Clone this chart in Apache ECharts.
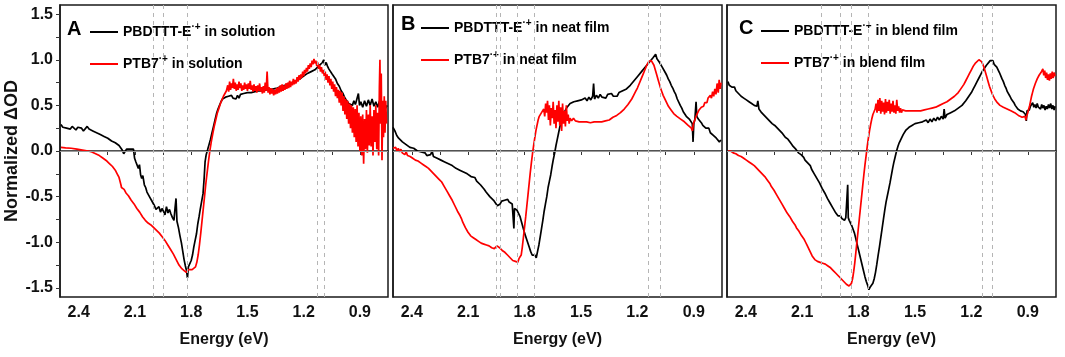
<!DOCTYPE html>
<html>
<head>
<meta charset="utf-8">
<script src="https://cdn.jsdelivr.net/npm/echarts@6/dist/echarts.min.js"></script>
<style>
  html, body { margin: 0; padding: 0; background: #fff; }
  #chart { width: 1065px; height: 357px; }
</style>
</head>
<body>
<div id="chart"></div>
<script>
// energy (eV), normalized dOD
const solBlack = [[2.495,0.29],[2.485,0.26],[2.475,0.28],[2.465,0.25],[2.455,0.27],[2.445,0.24],[2.435,0.27],[2.425,0.25],[2.415,0.23],[2.405,0.26],[2.395,0.24],[2.385,0.25],[2.375,0.22],[2.365,0.24],[2.355,0.27],[2.345,0.24],[2.335,0.25],[2.325,0.22],[2.315,0.23],[2.305,0.2],[2.295,0.21],[2.285,0.18],[2.275,0.19],[2.265,0.16],[2.255,0.17],[2.245,0.14],[2.235,0.15],[2.225,0.11],[2.215,0.12],[2.205,0.09],[2.195,0.1],[2.185,0.06],[2.175,0.04],[2.168,0.01],[2.16,-0.03],[2.152,-0.01],[2.145,0.02],[2.135,0.01],[2.125,0.02],[2.115,0.01],[2.108,0.02],[2.102,-0.08],[2.095,-0.12],[2.088,-0.1],[2.082,-0.19],[2.076,-0.15],[2.07,-0.26],[2.064,-0.3],[2.058,-0.27],[2.05,-0.37],[2.043,-0.4],[2.036,-0.45],[2.028,-0.47],[2.02,-0.51],[2.012,-0.54],[2.004,-0.57],[1.996,-0.6],[1.988,-0.64],[1.98,-0.66],[1.972,-0.61],[1.964,-0.67],[1.956,-0.63],[1.948,-0.66],[1.94,-0.7],[1.932,-0.61],[1.924,-0.68],[1.916,-0.64],[1.908,-0.69],[1.9,-0.73],[1.892,-0.76],[1.886,-0.62],[1.881,-0.52],[1.876,-0.77],[1.868,-0.84],[1.86,-0.93],[1.852,-1.01],[1.845,-1.1],[1.838,-1.19],[1.831,-1.26],[1.825,-1.31],[1.82,-1.39],[1.815,-1.27],[1.808,-1.25],[1.8,-1.2],[1.793,-1.14],[1.786,-1.05],[1.779,-0.98],[1.772,-0.91],[1.765,-0.8],[1.758,-0.72],[1.751,-0.63],[1.744,-0.55],[1.737,-0.47],[1.731,-0.3],[1.726,-0.12],[1.72,-0.04],[1.713,0.01],[1.705,0.07],[1.697,0.13],[1.689,0.2],[1.681,0.27],[1.673,0.34],[1.665,0.41],[1.657,0.46],[1.649,0.5],[1.641,0.54],[1.633,0.57],[1.625,0.55],[1.617,0.59],[1.609,0.57],[1.601,0.6],[1.593,0.58],[1.585,0.61],[1.577,0.58],[1.569,0.6],[1.561,0.57],[1.553,0.61],[1.545,0.58],[1.537,0.62],[1.529,0.6],[1.52,0.63],[1.51,0.61],[1.5,0.64],[1.49,0.62],[1.48,0.64],[1.47,0.62],[1.46,0.65],[1.45,0.63],[1.44,0.66],[1.43,0.64],[1.42,0.66],[1.41,0.64],[1.4,0.67],[1.39,0.65],[1.38,0.67],[1.37,0.65],[1.36,0.68],[1.35,0.66],[1.34,0.69],[1.33,0.68],[1.32,0.71],[1.31,0.69],[1.3,0.72],[1.29,0.71],[1.28,0.74],[1.27,0.73],[1.26,0.75],[1.25,0.74],[1.24,0.77],[1.23,0.76],[1.22,0.79],[1.21,0.8],[1.2,0.82],[1.19,0.83],[1.18,0.85],[1.17,0.84],[1.16,0.87],[1.15,0.86],[1.14,0.89],[1.13,0.9],[1.12,0.93],[1.11,0.95],[1.1,0.97],[1.093,1.0],[1.087,0.94],[1.08,0.97],[1.073,0.93],[1.066,0.9],[1.058,0.88],[1.05,0.85],[1.04,0.82],[1.03,0.79],[1.02,0.74],[1.01,0.71],[1.0,0.66],[0.99,0.63],[0.98,0.58],[0.97,0.56],[0.96,0.52],[0.95,0.54],[0.94,0.5],[0.932,0.55],[0.924,0.51],[0.915,0.53],[0.908,0.63],[0.902,0.5],[0.895,0.54],[0.885,0.48],[0.875,0.55],[0.865,0.49],[0.855,0.56],[0.845,0.5],[0.835,0.57],[0.825,0.49],[0.815,0.54],[0.805,0.48],[0.795,0.55],[0.785,0.47],[0.775,0.52],[0.765,0.46],[0.755,0.5]];

const solRed = [[2.495,0.04],[2.47,0.035],[2.44,0.03],[2.41,0.02],[2.38,0.01],[2.35,0.0],[2.33,-0.01],[2.31,-0.03],[2.29,-0.05],[2.27,-0.08],[2.25,-0.11],[2.235,-0.14],[2.22,-0.17],[2.205,-0.21],[2.195,-0.25],[2.185,-0.29],[2.178,-0.31],[2.175,-0.37],[2.172,-0.4],[2.165,-0.39],[2.158,-0.42],[2.148,-0.46],[2.135,-0.49],[2.12,-0.54],[2.105,-0.58],[2.09,-0.63],[2.075,-0.67],[2.06,-0.72],[2.045,-0.76],[2.03,-0.79],[2.015,-0.81],[2.0,-0.84],[1.985,-0.87],[1.97,-0.9],[1.955,-0.94],[1.94,-0.98],[1.925,-1.03],[1.91,-1.08],[1.895,-1.13],[1.88,-1.19],[1.865,-1.25],[1.85,-1.29],[1.838,-1.31],[1.826,-1.33],[1.815,-1.3],[1.805,-1.32],[1.795,-1.3],[1.785,-1.3],[1.777,-1.27],[1.77,-1.22],[1.763,-1.14],[1.756,-1.03],[1.749,-0.9],[1.742,-0.76],[1.735,-0.62],[1.728,-0.48],[1.721,-0.34],[1.714,-0.22],[1.707,-0.1],[1.7,0.01],[1.692,0.11],[1.684,0.2],[1.676,0.28],[1.668,0.35],[1.66,0.42],[1.652,0.47],[1.644,0.52],[1.636,0.56],[1.628,0.6],[1.62,0.63],[1.612,0.66],[1.605,0.72],[1.6,0.65],[1.595,0.76],[1.59,0.67],[1.585,0.74],[1.58,0.69],[1.575,0.79],[1.57,0.68],[1.565,0.75],[1.56,0.66],[1.555,0.73],[1.55,0.67],[1.545,0.76],[1.54,0.69],[1.535,0.74],[1.53,0.66],[1.525,0.72],[1.52,0.67],[1.515,0.75],[1.51,0.68],[1.505,0.73],[1.5,0.66],[1.495,0.74],[1.49,0.68],[1.485,0.77],[1.48,0.67],[1.475,0.72],[1.47,0.65],[1.465,0.73],[1.46,0.66],[1.455,0.71],[1.45,0.64],[1.445,0.72],[1.44,0.66],[1.435,0.74],[1.43,0.65],[1.425,0.7],[1.42,0.63],[1.415,0.71],[1.41,0.64],[1.405,0.75],[1.4,0.66],[1.395,0.87],[1.39,0.64],[1.385,0.7],[1.38,0.62],[1.375,0.69],[1.37,0.63],[1.365,0.68],[1.36,0.61],[1.355,0.67],[1.35,0.62],[1.345,0.69],[1.34,0.63],[1.335,0.7],[1.33,0.64],[1.325,0.72],[1.32,0.65],[1.315,0.73],[1.31,0.66],[1.305,0.72],[1.3,0.67],[1.295,0.74],[1.29,0.68],[1.285,0.75],[1.28,0.69],[1.275,0.77],[1.27,0.7],[1.265,0.76],[1.26,0.72],[1.255,0.79],[1.25,0.73],[1.245,0.78],[1.24,0.74],[1.235,0.81],[1.23,0.76],[1.225,0.83],[1.22,0.78],[1.215,0.84],[1.21,0.8],[1.205,0.87],[1.2,0.82],[1.195,0.89],[1.19,0.85],[1.185,0.91],[1.18,0.87],[1.175,0.94],[1.17,0.9],[1.165,0.96],[1.16,0.92],[1.155,0.99],[1.15,0.95],[1.145,1.01],[1.14,0.96],[1.135,0.99],[1.13,0.93],[1.125,0.97],[1.12,0.9],[1.115,0.94],[1.11,0.87],[1.105,0.92],[1.1,0.85],[1.095,0.89],[1.09,0.82],[1.085,0.87],[1.08,0.78],[1.075,0.84],[1.07,0.75],[1.065,0.82],[1.06,0.72],[1.055,0.79],[1.05,0.68],[1.045,0.76],[1.04,0.65],[1.035,0.73],[1.03,0.6],[1.025,0.7],[1.02,0.58],[1.015,0.67],[1.01,0.53],[1.005,0.66],[1.0,0.5],[0.995,0.64],[0.99,0.44],[0.985,0.6],[0.98,0.4],[0.975,0.57],[0.97,0.35],[0.965,0.55],[0.96,0.3],[0.955,0.52],[0.95,0.25],[0.945,0.5],[0.94,0.2],[0.935,0.48],[0.93,0.15],[0.925,0.46],[0.92,0.1],[0.915,0.5],[0.91,0.05],[0.905,0.42],[0.9,0.0],[0.895,0.38],[0.89,-0.05],[0.885,0.4],[0.88,-0.14],[0.875,0.35],[0.87,0.02],[0.865,0.45],[0.86,-0.02],[0.855,0.4],[0.85,0.06],[0.845,0.5],[0.84,0.05],[0.835,0.38],[0.83,-0.05],[0.825,0.45],[0.82,0.1],[0.815,0.5],[0.81,0.02],[0.805,0.42],[0.8,-0.05],[0.796,0.7],[0.793,1.0],[0.79,0.3],[0.786,0.85],[0.782,-0.1],[0.778,0.55],[0.774,0.15],[0.77,0.6],[0.766,0.2],[0.762,0.55],[0.758,0.3]];

const neatBlack = [[2.5,0.26],[2.49,0.22],[2.48,0.17],[2.47,0.14],[2.46,0.12],[2.45,0.1],[2.44,0.08],[2.43,0.07],[2.42,0.06],[2.41,0.04],[2.4,0.05],[2.39,0.03],[2.38,0.02],[2.37,0.0],[2.36,0.01],[2.35,-0.01],[2.34,-0.03],[2.33,-0.02],[2.32,-0.05],[2.31,-0.03],[2.3,-0.04],[2.292,0.0],[2.285,-0.06],[2.275,-0.07],[2.265,-0.08],[2.255,-0.07],[2.245,-0.1],[2.235,-0.09],[2.225,-0.12],[2.215,-0.11],[2.205,-0.14],[2.195,-0.15],[2.185,-0.16],[2.175,-0.15],[2.165,-0.19],[2.155,-0.17],[2.145,-0.21],[2.135,-0.2],[2.125,-0.23],[2.115,-0.22],[2.105,-0.25],[2.095,-0.24],[2.085,-0.28],[2.075,-0.3],[2.065,-0.29],[2.055,-0.33],[2.045,-0.34],[2.035,-0.37],[2.025,-0.39],[2.015,-0.42],[2.005,-0.45],[1.995,-0.47],[1.985,-0.5],[1.975,-0.52],[1.965,-0.54],[1.955,-0.57],[1.945,-0.6],[1.937,-0.61],[1.93,-0.58],[1.922,-0.55],[1.914,-0.57],[1.906,-0.54],[1.898,-0.56],[1.89,-0.53],[1.882,-0.56],[1.874,-0.55],[1.866,-0.58],[1.86,-0.6],[1.857,-0.85],[1.854,-0.63],[1.848,-0.62],[1.84,-0.65],[1.832,-0.67],[1.824,-0.72],[1.816,-0.78],[1.808,-0.84],[1.8,-0.9],[1.792,-0.95],[1.784,-1.0],[1.776,-1.05],[1.768,-1.1],[1.76,-1.14],[1.752,-1.16],[1.745,-1.14],[1.738,-1.17],[1.731,-1.1],[1.724,-1.03],[1.717,-0.94],[1.71,-0.85],[1.703,-0.76],[1.696,-0.66],[1.689,-0.58],[1.682,-0.5],[1.675,-0.4],[1.668,-0.33],[1.661,-0.26],[1.654,-0.17],[1.647,-0.09],[1.64,-0.02],[1.633,0.06],[1.626,0.13],[1.619,0.2],[1.612,0.27],[1.605,0.33],[1.598,0.38],[1.59,0.42],[1.582,0.45],[1.574,0.48],[1.566,0.5],[1.558,0.52],[1.548,0.5],[1.538,0.54],[1.528,0.52],[1.518,0.55],[1.508,0.53],[1.498,0.56],[1.488,0.54],[1.478,0.58],[1.468,0.55],[1.458,0.59],[1.448,0.56],[1.438,0.6],[1.433,0.74],[1.428,0.57],[1.418,0.61],[1.408,0.58],[1.398,0.62],[1.388,0.59],[1.378,0.61],[1.368,0.58],[1.358,0.62],[1.348,0.6],[1.338,0.63],[1.328,0.6],[1.318,0.62],[1.308,0.6],[1.298,0.64],[1.288,0.62],[1.278,0.66],[1.268,0.64],[1.258,0.68],[1.248,0.69],[1.238,0.72],[1.228,0.74],[1.218,0.77],[1.208,0.79],[1.198,0.82],[1.188,0.84],[1.178,0.87],[1.168,0.89],[1.158,0.92],[1.148,0.94],[1.138,0.97],[1.128,0.99],[1.118,1.02],[1.11,1.0],[1.103,1.06],[1.096,1.01],[1.089,1.03],[1.082,0.97],[1.075,0.95],[1.068,0.92],[1.06,0.9],[1.052,0.86],[1.044,0.83],[1.036,0.79],[1.028,0.76],[1.02,0.72],[1.012,0.69],[1.004,0.65],[0.996,0.62],[0.988,0.57],[0.98,0.55],[0.972,0.5],[0.964,0.47],[0.956,0.43],[0.948,0.41],[0.94,0.38],[0.932,0.36],[0.924,0.35],[0.916,0.33],[0.908,0.3],[0.904,0.1],[0.9,0.3],[0.894,0.35],[0.888,0.54],[0.884,0.38],[0.876,0.35],[0.868,0.33],[0.86,0.31],[0.852,0.28],[0.844,0.3],[0.836,0.25],[0.828,0.23],[0.82,0.25],[0.812,0.2],[0.804,0.22],[0.796,0.17],[0.788,0.19],[0.78,0.14],[0.772,0.16],[0.764,0.1],[0.756,0.12]];

const neatRed = [[2.5,0.03],[2.493,0.01],[2.486,0.04],[2.479,0.0],[2.472,0.03],[2.465,-0.01],[2.458,0.02],[2.451,-0.02],[2.444,0.0],[2.437,-0.04],[2.43,-0.01],[2.423,-0.05],[2.416,-0.03],[2.409,-0.06],[2.402,-0.04],[2.395,-0.08],[2.388,-0.06],[2.381,-0.1],[2.374,-0.08],[2.367,-0.11],[2.36,-0.1],[2.353,-0.13],[2.346,-0.12],[2.339,-0.15],[2.332,-0.14],[2.325,-0.17],[2.318,-0.16],[2.311,-0.19],[2.304,-0.18],[2.297,-0.22],[2.29,-0.21],[2.283,-0.25],[2.276,-0.24],[2.269,-0.28],[2.262,-0.27],[2.255,-0.31],[2.248,-0.3],[2.241,-0.34],[2.234,-0.35],[2.227,-0.39],[2.22,-0.4],[2.213,-0.44],[2.206,-0.45],[2.199,-0.49],[2.192,-0.5],[2.185,-0.54],[2.178,-0.56],[2.171,-0.6],[2.164,-0.62],[2.157,-0.66],[2.15,-0.67],[2.143,-0.71],[2.136,-0.74],[2.129,-0.78],[2.122,-0.8],[2.115,-0.84],[2.108,-0.86],[2.101,-0.89],[2.094,-0.9],[2.087,-0.93],[2.08,-0.92],[2.073,-0.95],[2.066,-0.94],[2.059,-0.97],[2.052,-0.96],[2.045,-0.99],[2.038,-0.98],[2.031,-1.01],[2.024,-1.0],[2.017,-1.02],[2.01,-1.0],[2.003,-1.03],[1.996,-1.01],[1.989,-1.04],[1.982,-1.02],[1.975,-1.06],[1.968,-1.04],[1.961,-1.07],[1.954,-1.05],[1.947,-1.04],[1.94,-1.02],[1.933,-1.06],[1.926,-1.07],[1.919,-1.09],[1.912,-1.08],[1.905,-1.11],[1.898,-1.12],[1.891,-1.14],[1.884,-1.15],[1.877,-1.17],[1.87,-1.18],[1.863,-1.2],[1.856,-1.19],[1.849,-1.21],[1.842,-1.2],[1.836,-1.22],[1.83,-1.18],[1.824,-1.2],[1.818,-1.14],[1.812,-1.05],[1.806,-0.94],[1.8,-0.83],[1.794,-0.72],[1.788,-0.6],[1.782,-0.48],[1.776,-0.36],[1.77,-0.24],[1.764,-0.13],[1.758,-0.03],[1.752,0.06],[1.746,0.14],[1.74,0.22],[1.734,0.28],[1.728,0.34],[1.722,0.38],[1.716,0.36],[1.71,0.42],[1.704,0.4],[1.698,0.46],[1.693,0.38],[1.688,0.52],[1.683,0.42],[1.678,0.55],[1.673,0.34],[1.668,0.5],[1.663,0.28],[1.658,0.47],[1.653,0.36],[1.648,0.54],[1.643,0.3],[1.638,0.45],[1.633,0.25],[1.628,0.5],[1.623,0.32],[1.618,0.55],[1.613,0.28],[1.608,0.48],[1.603,0.22],[1.598,0.52],[1.593,0.3],[1.588,0.44],[1.583,0.27],[1.578,0.5],[1.573,0.33],[1.568,0.4],[1.563,0.3],[1.558,0.36],[1.55,0.33],[1.54,0.36],[1.53,0.33],[1.52,0.35],[1.51,0.32],[1.5,0.34],[1.49,0.32],[1.48,0.34],[1.47,0.32],[1.46,0.33],[1.45,0.31],[1.44,0.33],[1.43,0.32],[1.42,0.33],[1.41,0.32],[1.4,0.33],[1.39,0.32],[1.38,0.34],[1.37,0.33],[1.36,0.35],[1.35,0.34],[1.34,0.36],[1.33,0.37],[1.32,0.38],[1.31,0.39],[1.3,0.4],[1.29,0.42],[1.28,0.44],[1.27,0.46],[1.26,0.48],[1.25,0.51],[1.24,0.54],[1.23,0.57],[1.22,0.61],[1.21,0.65],[1.2,0.69],[1.19,0.74],[1.18,0.79],[1.17,0.84],[1.16,0.89],[1.15,0.94],[1.14,0.98],[1.133,1.0],[1.126,0.99],[1.119,0.97],[1.112,0.94],[1.105,0.89],[1.098,0.84],[1.091,0.79],[1.084,0.74],[1.077,0.69],[1.07,0.65],[1.063,0.61],[1.056,0.58],[1.049,0.55],[1.042,0.52],[1.035,0.49],[1.028,0.47],[1.021,0.45],[1.014,0.43],[1.007,0.41],[1.0,0.4],[0.99,0.38],[0.98,0.36],[0.97,0.35],[0.96,0.33],[0.95,0.32],[0.94,0.3],[0.93,0.28],[0.92,0.27],[0.913,0.25],[0.907,0.22],[0.902,0.3],[0.896,0.33],[0.89,0.37],[0.884,0.4],[0.878,0.42],[0.872,0.45],[0.866,0.44],[0.86,0.48],[0.854,0.5],[0.848,0.49],[0.842,0.53],[0.836,0.55],[0.83,0.53],[0.824,0.58],[0.818,0.56],[0.812,0.61],[0.806,0.58],[0.8,0.65],[0.794,0.6],[0.788,0.68],[0.782,0.62],[0.776,0.74],[0.77,0.64],[0.765,0.78],[0.76,0.68],[0.755,0.75]];

const blendBlack = [[2.495,0.76],[2.488,0.72],[2.481,0.74],[2.474,0.7],[2.467,0.68],[2.46,0.7],[2.453,0.66],[2.446,0.65],[2.439,0.63],[2.432,0.64],[2.425,0.6],[2.418,0.61],[2.411,0.58],[2.404,0.59],[2.397,0.56],[2.39,0.58],[2.383,0.54],[2.376,0.55],[2.369,0.52],[2.362,0.53],[2.355,0.5],[2.348,0.52],[2.341,0.49],[2.336,0.55],[2.33,0.46],[2.323,0.45],[2.316,0.42],[2.309,0.43],[2.302,0.39],[2.295,0.38],[2.288,0.36],[2.281,0.37],[2.274,0.33],[2.267,0.32],[2.26,0.3],[2.253,0.31],[2.246,0.28],[2.239,0.27],[2.232,0.25],[2.225,0.26],[2.218,0.22],[2.211,0.21],[2.204,0.19],[2.197,0.18],[2.19,0.15],[2.183,0.16],[2.176,0.13],[2.169,0.11],[2.162,0.09],[2.155,0.08],[2.148,0.05],[2.141,0.06],[2.134,0.02],[2.127,0.0],[2.12,-0.02],[2.113,-0.01],[2.106,-0.04],[2.099,-0.06],[2.092,-0.07],[2.085,-0.1],[2.078,-0.11],[2.071,-0.13],[2.064,-0.15],[2.057,-0.16],[2.05,-0.2],[2.043,-0.21],[2.036,-0.25],[2.029,-0.26],[2.022,-0.3],[2.015,-0.32],[2.008,-0.35],[2.001,-0.38],[1.994,-0.41],[1.987,-0.43],[1.98,-0.46],[1.973,-0.49],[1.966,-0.52],[1.959,-0.54],[1.952,-0.57],[1.945,-0.59],[1.938,-0.62],[1.931,-0.64],[1.924,-0.67],[1.917,-0.69],[1.91,-0.71],[1.903,-0.72],[1.896,-0.71],[1.889,-0.74],[1.882,-0.72],[1.875,-0.76],[1.868,-0.73],[1.862,-0.75],[1.858,-0.37],[1.855,-0.73],[1.85,-0.76],[1.843,-0.79],[1.836,-0.82],[1.829,-0.86],[1.822,-0.9],[1.815,-0.96],[1.808,-1.02],[1.801,-1.08],[1.794,-1.14],[1.787,-1.2],[1.78,-1.26],[1.773,-1.32],[1.766,-1.38],[1.759,-1.43],[1.752,-1.47],[1.745,-1.52],[1.738,-1.49],[1.731,-1.47],[1.724,-1.45],[1.717,-1.4],[1.71,-1.33],[1.703,-1.24],[1.696,-1.14],[1.689,-1.05],[1.682,-0.95],[1.675,-0.85],[1.668,-0.75],[1.661,-0.65],[1.654,-0.56],[1.647,-0.49],[1.64,-0.42],[1.633,-0.35],[1.626,-0.27],[1.619,-0.19],[1.612,-0.12],[1.605,-0.06],[1.598,0.0],[1.591,0.05],[1.584,0.09],[1.577,0.12],[1.57,0.15],[1.563,0.18],[1.556,0.2],[1.548,0.23],[1.54,0.22],[1.532,0.26],[1.524,0.25],[1.516,0.28],[1.508,0.27],[1.5,0.3],[1.49,0.28],[1.48,0.31],[1.47,0.29],[1.46,0.32],[1.45,0.3],[1.44,0.34],[1.43,0.31],[1.42,0.35],[1.41,0.32],[1.4,0.36],[1.39,0.33],[1.38,0.37],[1.37,0.34],[1.36,0.38],[1.35,0.35],[1.345,0.46],[1.34,0.36],[1.33,0.4],[1.32,0.38],[1.31,0.42],[1.3,0.4],[1.29,0.44],[1.28,0.43],[1.27,0.47],[1.26,0.46],[1.25,0.5],[1.24,0.52],[1.23,0.55],[1.22,0.58],[1.21,0.61],[1.2,0.64],[1.19,0.68],[1.18,0.72],[1.17,0.76],[1.16,0.8],[1.15,0.84],[1.14,0.88],[1.13,0.91],[1.12,0.94],[1.11,0.96],[1.1,0.99],[1.093,0.97],[1.086,0.99],[1.079,0.95],[1.072,0.96],[1.065,0.92],[1.058,0.9],[1.051,0.86],[1.044,0.84],[1.037,0.79],[1.03,0.76],[1.023,0.72],[1.016,0.69],[1.009,0.65],[1.002,0.63],[0.995,0.6],[0.988,0.57],[0.981,0.55],[0.974,0.53],[0.967,0.5],[0.96,0.48],[0.953,0.46],[0.946,0.47],[0.939,0.44],[0.932,0.46],[0.925,0.43],[0.918,0.45],[0.912,0.4],[0.908,0.33],[0.904,0.44],[0.898,0.46],[0.892,0.45],[0.886,0.49],[0.88,0.5],[0.874,0.53],[0.868,0.48],[0.862,0.51],[0.856,0.47],[0.85,0.52],[0.844,0.48],[0.838,0.5],[0.832,0.46],[0.826,0.51],[0.82,0.47],[0.814,0.5],[0.808,0.45],[0.802,0.49],[0.796,0.46],[0.79,0.51],[0.784,0.47],[0.778,0.52],[0.772,0.46],[0.766,0.5],[0.76,0.45],[0.755,0.49]];

const blendRed = [[2.495,0.0],[2.488,-0.01],[2.481,0.0],[2.474,-0.02],[2.467,-0.02],[2.46,-0.03],[2.453,-0.03],[2.446,-0.04],[2.439,-0.05],[2.432,-0.05],[2.425,-0.06],[2.418,-0.08],[2.411,-0.08],[2.404,-0.1],[2.397,-0.1],[2.39,-0.11],[2.383,-0.12],[2.376,-0.13],[2.369,-0.14],[2.362,-0.15],[2.355,-0.16],[2.348,-0.17],[2.341,-0.19],[2.334,-0.2],[2.327,-0.22],[2.32,-0.23],[2.313,-0.25],[2.306,-0.26],[2.299,-0.28],[2.292,-0.3],[2.285,-0.32],[2.278,-0.34],[2.271,-0.36],[2.264,-0.39],[2.257,-0.4],[2.25,-0.43],[2.243,-0.45],[2.236,-0.48],[2.229,-0.5],[2.222,-0.53],[2.215,-0.55],[2.208,-0.58],[2.201,-0.6],[2.194,-0.63],[2.187,-0.65],[2.18,-0.68],[2.173,-0.7],[2.166,-0.72],[2.159,-0.74],[2.152,-0.77],[2.145,-0.79],[2.138,-0.81],[2.131,-0.84],[2.124,-0.86],[2.117,-0.88],[2.11,-0.9],[2.103,-0.93],[2.096,-0.95],[2.089,-0.97],[2.082,-1.0],[2.075,-1.03],[2.068,-1.06],[2.061,-1.09],[2.054,-1.12],[2.047,-1.15],[2.04,-1.17],[2.033,-1.19],[2.026,-1.21],[2.019,-1.21],[2.012,-1.23],[2.005,-1.22],[1.998,-1.24],[1.991,-1.23],[1.984,-1.25],[1.977,-1.24],[1.97,-1.26],[1.963,-1.26],[1.956,-1.27],[1.949,-1.28],[1.942,-1.29],[1.935,-1.31],[1.928,-1.32],[1.921,-1.34],[1.914,-1.35],[1.907,-1.37],[1.9,-1.38],[1.893,-1.4],[1.886,-1.41],[1.879,-1.43],[1.872,-1.44],[1.865,-1.46],[1.858,-1.47],[1.851,-1.48],[1.844,-1.47],[1.838,-1.45],[1.832,-1.4],[1.826,-1.32],[1.82,-1.22],[1.814,-1.1],[1.808,-0.98],[1.802,-0.86],[1.796,-0.74],[1.79,-0.62],[1.784,-0.5],[1.778,-0.38],[1.772,-0.26],[1.766,-0.15],[1.76,-0.05],[1.754,0.05],[1.748,0.14],[1.742,0.22],[1.736,0.29],[1.73,0.35],[1.724,0.4],[1.718,0.43],[1.712,0.46],[1.707,0.52],[1.702,0.42],[1.697,0.56],[1.692,0.44],[1.687,0.58],[1.682,0.41],[1.677,0.55],[1.672,0.43],[1.667,0.53],[1.662,0.4],[1.657,0.57],[1.652,0.42],[1.647,0.54],[1.642,0.44],[1.637,0.56],[1.632,0.41],[1.627,0.52],[1.622,0.43],[1.617,0.55],[1.612,0.42],[1.607,0.5],[1.602,0.41],[1.597,0.56],[1.592,0.44],[1.587,0.49],[1.582,0.42],[1.577,0.47],[1.572,0.42],[1.567,0.45],[1.56,0.43],[1.55,0.44],[1.54,0.42],[1.53,0.44],[1.52,0.43],[1.51,0.44],[1.5,0.43],[1.49,0.44],[1.48,0.43],[1.47,0.44],[1.46,0.44],[1.45,0.45],[1.44,0.45],[1.43,0.46],[1.42,0.46],[1.41,0.47],[1.4,0.47],[1.39,0.48],[1.38,0.49],[1.37,0.5],[1.36,0.51],[1.35,0.52],[1.34,0.53],[1.33,0.54],[1.32,0.55],[1.31,0.57],[1.3,0.58],[1.29,0.6],[1.28,0.62],[1.27,0.64],[1.26,0.67],[1.25,0.7],[1.24,0.73],[1.23,0.77],[1.22,0.81],[1.21,0.85],[1.2,0.89],[1.19,0.93],[1.18,0.96],[1.17,0.98],[1.16,1.0],[1.153,1.0],[1.146,0.98],[1.139,0.95],[1.132,0.91],[1.125,0.86],[1.118,0.81],[1.111,0.76],[1.104,0.71],[1.097,0.67],[1.09,0.63],[1.083,0.6],[1.076,0.57],[1.069,0.55],[1.062,0.53],[1.055,0.51],[1.048,0.5],[1.04,0.49],[1.03,0.48],[1.02,0.47],[1.01,0.46],[1.0,0.45],[0.99,0.44],[0.98,0.43],[0.97,0.42],[0.96,0.4],[0.95,0.39],[0.94,0.38],[0.93,0.37],[0.922,0.36],[0.915,0.38],[0.91,0.34],[0.905,0.39],[0.9,0.42],[0.895,0.46],[0.89,0.5],[0.885,0.55],[0.88,0.6],[0.875,0.64],[0.87,0.68],[0.865,0.7],[0.86,0.74],[0.855,0.76],[0.85,0.79],[0.845,0.8],[0.84,0.83],[0.835,0.82],[0.83,0.86],[0.825,0.84],[0.82,0.9],[0.815,0.83],[0.81,0.88],[0.805,0.8],[0.8,0.86],[0.795,0.78],[0.79,0.84],[0.785,0.77],[0.78,0.85],[0.775,0.79],[0.77,0.87],[0.765,0.8],[0.76,0.86],[0.755,0.82]];

// dashed guide energies per panel
const dashA = [2.0, 1.945, 1.82, 1.128, 1.093];
const dashB = [1.948, 1.927, 1.839, 1.75, 1.138, 1.08];
const dashC = [2.0, 1.895, 1.837, 1.745, 1.14, 1.088];

const xLabels = [2.4, 2.1, 1.8, 1.5, 1.2, 0.9];
const xTicks = [2.4, 2.25, 2.1, 1.95, 1.8, 1.65, 1.5, 1.35, 1.2, 1.05, 0.9];
const yLabels = [-1.5, -1.0, -0.5, 0.0, 0.5, 1.0, 1.5];
const yTicks = [-1.5, -1.25, -1.0, -0.75, -0.5, -0.25, 0, 0.25, 0.5, 0.75, 1.0, 1.25, 1.5];

const panels = [
  { letter: 'A', where: 'solution', black: solBlack, red: solRed, dash: dashA,
    left: 60, width: 328, letterX: 67, letterY: 19, legX: 90, legY: 22 },
  { letter: 'B', where: 'neat film', black: neatBlack, red: neatRed, dash: dashB,
    left: 393, width: 329, letterX: 401, letterY: 14, legX: 421, legY: 18 },
  { letter: 'C', where: 'blend film', black: blendBlack, red: blendRed, dash: dashC,
    left: 727, width: 329, letterX: 739, letterY: 18, legX: 761, legY: 21 }
];

const font = "'Liberation Sans', Arial, sans-serif";
const chart = echarts.init(document.getElementById('chart'));

const grids = [], xAxes = [], yAxes = [], series = [], legends = [], titles = [];

panels.forEach((p, i) => {
  grids.push({ left: p.left, top: 5, width: p.width, height: 292, show: true,
    borderColor: '#1a1a1a', borderWidth: 1.5 });

  xAxes.push({
    type: 'value', gridIndex: i, min: 0.75, max: 2.5, inverse: true,
    name: 'Energy (eV)', nameLocation: 'middle', nameGap: 35,
    nameTextStyle: { fontFamily: font, fontWeight: 'bold', fontSize: 16, color: '#111' },
    axisLine: { lineStyle: { color: '#1a1a1a', width: 1.5 } },
    axisTick: { customValues: xTicks, length: 4, lineStyle: { color: '#333' } },
    axisLabel: { customValues: xLabels, margin: 8, formatter: v => v.toFixed(1),
      fontFamily: font, fontWeight: 'bold', fontSize: 16, color: '#111' },
    splitLine: { show: false }
  });

  yAxes.push({
    type: 'value', gridIndex: i, min: -1.6, max: 1.6,
    name: i === 0 ? 'Normalized ΔOD' : '', nameLocation: 'middle', nameGap: 33,
    nameTextStyle: { fontFamily: font, fontWeight: 'bold', fontSize: 18, color: '#111' },
    axisLine: { show: true, lineStyle: { color: '#1a1a1a', width: 1.5 } },
    axisTick: { show: i === 0, customValues: yTicks, length: 4, lineStyle: { color: '#333' } },
    axisLabel: { show: i === 0, customValues: yLabels, margin: 7, formatter: v => v.toFixed(1),
      fontFamily: font, fontWeight: 'bold', fontSize: 16, color: '#111' },
    splitLine: { show: false }
  });

  const nBlack = p.letter + ' black', nRed = p.letter + ' red';

  // reference lines (zero line + dashed guides) under the curves
  series.push({
    type: 'line', xAxisIndex: i, yAxisIndex: i, data: [], z: 1, silent: true,
    markLine: {
      silent: true, symbol: 'none', animation: false, label: { show: false },
      data: [{ yAxis: 0, lineStyle: { color: '#9a9a9a', type: 'solid', width: 1.2 } }]
        .concat(p.dash.map(v => ({ xAxis: v, lineStyle: { color: '#b5b5b5', type: [4, 4], width: 1 } })))
    }
  });
  series.push({ name: nBlack, type: 'line', xAxisIndex: i, yAxisIndex: i, data: p.black,
    symbol: 'none', z: 3, lineStyle: { color: '#000', width: 1.7 }, itemStyle: { color: '#000' } });
  series.push({ name: nRed, type: 'line', xAxisIndex: i, yAxisIndex: i, data: p.red,
    symbol: 'none', z: 4, lineStyle: { color: '#f00', width: 1.7 }, itemStyle: { color: '#f00' } });

  const labels = {};
  labels[nBlack] = '{t|PBDTTT-E}{s|·+}{t| in ' + p.where + '}';
  labels[nRed] = '{t|PTB7}{s|·+}{t| in ' + p.where + '}';
  legends.push({
    data: [nBlack, nRed], orient: 'vertical', left: p.legX, top: p.legY, padding: 0,
    itemGap: 15, itemWidth: 28, itemHeight: 2, icon: 'rect', itemTextGap: 3,
    selectedMode: false,
    formatter: name => labels[name],
    textStyle: {
      color: '#000',
      rich: {
        t: { fontFamily: font, fontWeight: 'bold', fontSize: 14, color: '#000' },
        s: { fontFamily: font, fontWeight: 'bold', fontSize: 10, color: '#000', padding: [0, 0, 10, 0] }
      }
    }
  });

  titles.push({ text: p.letter, left: p.letterX, top: p.letterY, padding: 0,
    textStyle: { fontFamily: font, fontWeight: 'bold', fontSize: 20, color: '#000' } });
});

chart.setOption({
  animation: false,
  backgroundColor: '#fff',
  title: titles,
  legend: legends,
  grid: grids,
  xAxis: xAxes,
  yAxis: yAxes,
  series: series
});
</script>
</body>
</html>
